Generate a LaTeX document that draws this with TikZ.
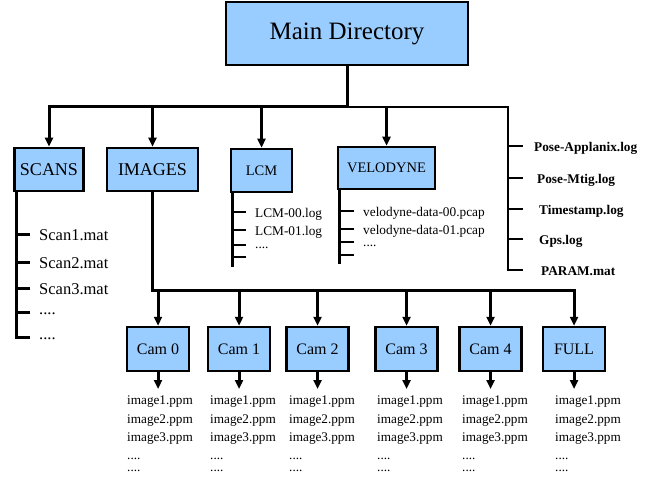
\documentclass[tikz,border=0pt]{standalone}
\usepackage{fontspec}
\setmainfont{Liberation Serif}
\usetikzlibrary{arrows.meta}
\definecolor{boxblue}{RGB}{153,204,255}
\newcommand{\fsz}[1]{\fontsize{#1}{#1}\selectfont}
\begin{document}
\begin{tikzpicture}[x=1pt,y=-1pt,
  box/.style={draw=black, line width=2.5pt, fill=boxblue, inner sep=0pt, anchor=center},
  cambox/.style={box, minimum width=62pt, minimum height=44pt, font=\fsz{16}},
  lin/.style={line width=3pt},
  thinl/.style={line width=2pt},
  tick/.style={line width=2.5pt},
  arr/.style={line width=3pt, -{Triangle[length=9pt,width=8pt]}},
  item/.style={anchor=base west, inner sep=0pt},
  imgtxt/.style={item, font=\fsz{13.2}},
  boldtxt/.style={item, font=\fsz{13.3}\bfseries}
]
\useasboundingbox (0,0) rectangle (660,478);

% ---------- boxes ----------
\node[box, minimum width=242pt, minimum height=63pt, font=\fsz{25}] (main) at (347,33.5) {Main Directory};
\node[box, minimum width=69pt, minimum height=43pt, font=\fsz{18}] (scans) at (49,169.5) {SCANS};
\node[box, minimum width=91pt, minimum height=43pt, font=\fsz{18}] (images) at (152.5,169.5) {IMAGES};
\node[box, minimum width=61pt, minimum height=43pt, font=\fsz{14.5}] (lcm) at (261.5,170.5) {LCM};
\node[box, minimum width=97pt, minimum height=42pt, font=\fsz{14.5}] (velo) at (386.5,168) {VELODYNE};

\node[cambox] (cam0) at (158,349) {Cam 0};
\node[cambox] (cam1) at (239,349) {Cam 1};
\node[cambox] (cam2) at (317.5,349) {Cam 2};
\node[cambox] (cam3) at (406.5,349) {Cam 3};
\node[cambox] (cam4) at (490.5,349) {Cam 4};
\node[cambox] (full) at (574,349) {FULL};

% ---------- main bus ----------
\coordinate (busL) at (49,107);
\coordinate (busM) at (347,107);
\coordinate (busR) at (508,107);
\coordinate (prEnd) at (508,270);
\draw[lin] (main.south) -- (busM);
\draw[arr] (busM) -- (busL) -- (scans.north);
\draw[arr] (images.north |- busL) -- (images.north);
\draw[arr] (lcm.north |- busL) -- (lcm.north);
\draw[thinl] (busM) -- (busR) -- (prEnd) -- (523,270);
\draw[arr] (velo.north |- busL) -- (velo.north);

% ---------- right files ----------
\foreach \y in {146,178,209,239} \draw[tick] (508,\y) -- (523,\y);
\node[boldtxt] (pa) at (534,151.5) {Pose-Applanix.log};
\node[boldtxt] (pm) at (537,183.5) {Pose-Mtig.log};
\node[boldtxt] (ts) at (539,214.5) {Timestamp.log};
\node[boldtxt] (gp) at (539,244.5) {Gps.log};
\node[boldtxt] (pr) at (541,275.5) {PARAM.mat};

% ---------- SCANS subtree ----------
\draw[lin] (16,191) -- (16,337) -- (30,337);
\foreach \y in {234,262,288,312} \draw[lin] (16,\y) -- (30,\y);
\node[item, font=\fsz{16.5}] (s1) at (39,240) {Scan1.mat};
\node[item, font=\fsz{16.5}] (s2) at (39,268) {Scan2.mat};
\node[item, font=\fsz{16.5}] (s3) at (39,294) {Scan3.mat};
\node[item, font=\fsz{16.5}] (s4) at (39,314) {....};
\node[item, font=\fsz{16.5}] (s5) at (39,339) {....};

% ---------- LCM subtree ----------
\draw[lin] (232,191) -- (232,267);
\foreach \y in {212,230,245,257} \draw[tick] (232,\y) -- (246,\y);
\node[item, font=\fsz{13.3}] (l1) at (255,217) {LCM-00.log};
\node[item, font=\fsz{13.3}] (l2) at (255,235) {LCM-01.log};
\node[item, font=\fsz{13.3}] (l3) at (255,248) {....};

% ---------- VELODYNE subtree ----------
\draw[lin] (339.5,188) -- (339.5,264);
\foreach \y in {211,229,242,255} \draw[tick] (339.5,\y) -- (354,\y);
\node[item, font=\fsz{13.3}] (v1) at (363,216) {velodyne-data-00.pcap};
\node[item, font=\fsz{13.3}] (v2) at (363,234) {velodyne-data-01.pcap};
\node[item, font=\fsz{13.3}] (v3) at (363,246) {....};

% ---------- IMAGES subtree ----------
\coordinate (ibL) at (152.5,290);
\draw[arr] (images.south) -- (ibL) -- (ibL -| full.north) -- (full.north);
\foreach \c in {cam0,cam1,cam2,cam3,cam4} \draw[arr] (ibL -| \c.north) -- (\c.north);

% ---------- camera files ----------
\foreach \c/\x in {cam0/127,cam1/210,cam2/289,cam3/377,cam4/462,full/555}{
  \coordinate (\c t) at (\c.south |- 0,389);
  \draw[arr] (\c.south) -- (\c t);
  \node[imgtxt] (\c a) at (\x,404) {image1.ppm};
  \node[imgtxt] (\c b) at (\x,423) {image2.ppm};
  \node[imgtxt] (\c c) at (\x,441) {image3.ppm};
  \node[imgtxt] (\c d) at (\x,459) {....};
  \node[imgtxt] (\c e) at (\x,471) {....};
}
\end{tikzpicture}
\end{document}
